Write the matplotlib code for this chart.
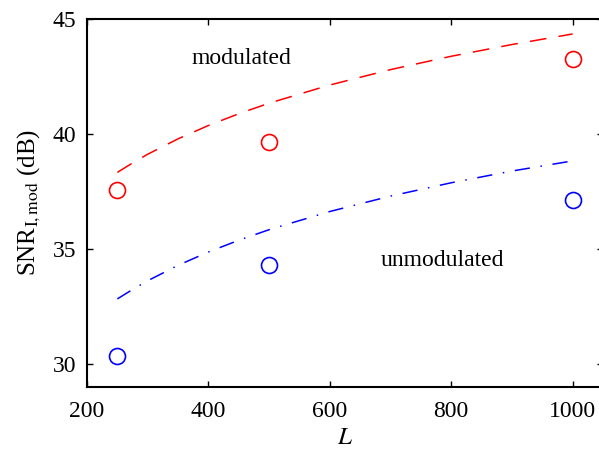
import matplotlib
matplotlib.use("Agg")
import matplotlib.pyplot as plt

# measured points
L_pts = [250, 500, 1000]
snr_mod = [37.55, 39.65, 43.25]
snr_unmod = [30.35, 34.3, 37.13]

# theory curves
L_curve = [250, 275, 300, 350, 400, 450, 500, 600, 700, 800, 900, 1000]
curve_mod = [38.33, 38.74, 39.12, 39.79, 40.37, 40.88, 41.34, 42.13, 42.80, 43.38, 43.89, 44.35]
curve_unmod = [32.83, 33.24, 33.62, 34.29, 34.87, 35.38, 35.84, 36.63, 37.30, 37.88, 38.39, 38.83]

plt.rcParams['font.family'] = 'Liberation Serif'
plt.rcParams['mathtext.fontset'] = 'stix'

fig = plt.figure(figsize=(5.99, 4.49), dpi=100)
ax = fig.add_axes([87/599, 62/449, 516/599, 368/449])

ax.plot(L_curve, curve_mod, color='red', lw=1.1, dashes=(11, 8))
ax.plot(L_curve, curve_unmod, color='blue', lw=1.1, dashes=(10, 7, 1, 7))
ax.plot(L_pts, snr_mod, 'o', mfc='none', mec='red', ms=11.5, mew=1.2)
ax.plot(L_pts, snr_unmod, 'o', mfc='none', mec='blue', ms=11.5, mew=1.2)

ax.text(455, 43.3, 'modulated', ha='center', va='center', fontsize=17)
ax.text(786, 34.5, 'unmodulated', ha='center', va='center', fontsize=17)

ax.set_xlim(200, 1050)
ax.set_ylim(29, 45)
ax.set_xticks([200, 400, 600, 800, 1000])
ax.set_yticks([30, 35, 40, 45])
ax.tick_params(direction='in', top=True, right=True, length=4, width=1, labelsize=17)
ax.tick_params(axis='x', pad=10)
ax.tick_params(axis='y', pad=8)
for s in ax.spines.values():
    s.set_linewidth(1.5)

ax.set_xlabel('$L$', fontsize=18, labelpad=4)
ax.set_ylabel(r'SNR$_{\mathrm{I,mod}}$ (dB)', fontsize=18, labelpad=7)

fig.savefig('out.png', dpi=100)
